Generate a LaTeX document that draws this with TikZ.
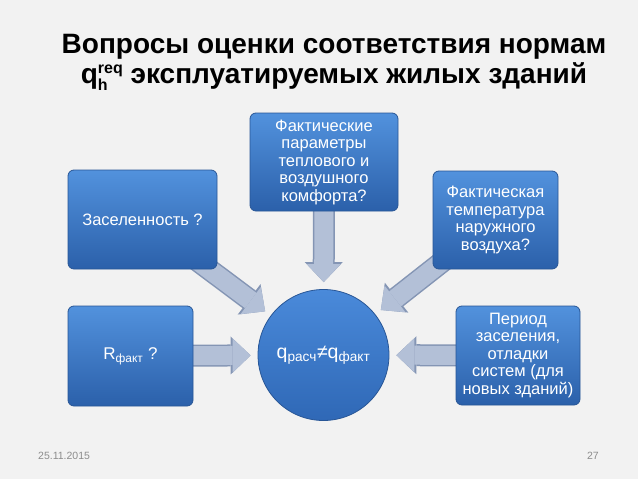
\documentclass[tikz,border=0pt]{standalone}
\usepackage{fontspec}
\setsansfont{Liberation Sans}
\usetikzlibrary{arrows.meta, positioning, backgrounds}
\definecolor{cpage}{HTML}{F2F2F2}
\definecolor{cboxtop}{HTML}{5292DD}
\definecolor{cboxbot}{HTML}{2B60AA}
\definecolor{cboxline}{HTML}{285696}
\definecolor{chubtop}{HTML}{4A8ADA}
\definecolor{chubbot}{HTML}{2F68B6}
\definecolor{cflow}{HTML}{B3C0D7}
\definecolor{cflowedge}{HTML}{8495B4}
\definecolor{cfoot}{HTML}{8C8C8C}
\newcommand{\idx}[2]{\raisebox{#1}{\fontsize{16}{16}\selectfont #2}}
\tikzset{
  every picture/.style={font=\sffamily, x=1pt, y=-1pt},
  box/.style={draw=cboxline, line width=0.8pt, top color=cboxtop, bottom color=cboxbot, rounded corners=6pt, text=white, align=center, inner sep=0pt, font=\sffamily\fontsize{16.5}{17.5}\selectfont},
  hub/.style={circle, draw=cboxline, line width=0.8pt, top color=chubtop, bottom color=chubbot, minimum size=131pt, inner sep=0pt, text=white, font=\sffamily\fontsize{19.5}{22}\selectfont},
  flowedge/.style={draw=cflowedge, line width=22pt, -{Triangle[length=20pt, width=38pt, line width=0pt]}, shorten >=7pt, shorten <=-30pt},
  flow/.style={draw=cflow, line width=19pt, -{Triangle[length=18pt, width=34pt, line width=0pt]}, shorten >=7pt, shorten <=-30pt},
  headline/.style={font=\sffamily\bfseries\fontsize{28}{30}\selectfont, inner sep=0pt, align=center},
  foot/.style={font=\sffamily\fontsize{10.5}{12}\selectfont, text=cfoot, inner sep=0pt, anchor=base},
}

\begin{document}
\begin{tikzpicture}
  \useasboundingbox (0,0) rectangle (638,479);
  % title (base = last line)
  \node[headline, anchor=base] (title) at (334,83) {Вопросы оценки соответствия нормам\\q\rlap{\idx{-0.25em}{h}}\idx{0.33em}{req} эксплуатируемых жилых зданий};
  % centre and the five questions round it
  \node[hub] (res) at (323.5,355) {q\textsubscript{расч}≠q\textsubscript{факт}};
  \node[box, minimum width=149pt, minimum height=99pt] (zas) at (142.5,219.5) {Заселенность ?};
  \node[box, minimum width=148pt, minimum height=98pt] (fakt) at (324,162) {Фактические\\параметры\\теплового и\\воздушного\\комфорта?};
  \node[box, minimum width=125pt, minimum height=98pt] (temp) at (495.5,220) {Фактическая\\температура\\наружного\\воздуха?};
  \node[box, minimum width=125pt, minimum height=100pt] (rf) at (130.5,356) {\fontsize{17}{19}\selectfont R\textsubscript{факт} ?};
  \node[box, minimum width=124pt, minimum height=99pt] (per) at (518,355.5) {Период\\заселения,\\отладки\\систем (для\\новых зданий)};
  % footer
  \node[foot, anchor=base west] (date) at (38,459.5) {25.11.2015};
  \node[foot, anchor=base east] (page) at (599,459.5) {27};
  \begin{scope}[on background layer]
    \fill[cpage] (0,0) rectangle (638,479);
    \foreach \src in {zas, fakt, temp, rf, per} {
      \draw[flowedge] (\src) -- (res);
      \draw[flow] (\src) -- (res);
    }
  \end{scope}
\end{tikzpicture}
\end{document}
